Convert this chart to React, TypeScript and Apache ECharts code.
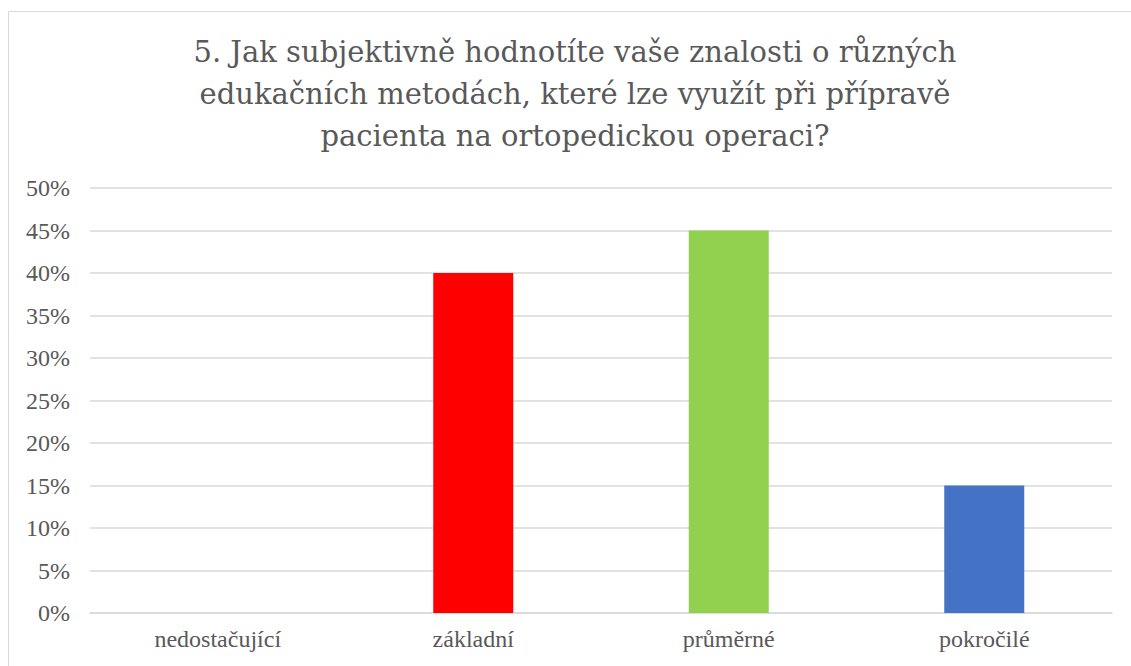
import React, { useEffect, useRef } from "react";
import * as echarts from "echarts";

const titleLines = [
  "5. Jak subjektivně hodnotíte vaše znalosti o různých",
  "edukačních metodách, které lze využít při přípravě",
  "pacienta na ortopedickou operaci?",
];
const categories = ["nedostačující", "základní", "průměrné", "pokročilé"];
const values = [0, 40, 45, 15];
const barColors = ["#FFC000", "#FF0000", "#92D050", "#4472C4"];
const yTicks = { min: 0, max: 50, interval: 5 };

export default function App() {
  const ref = useRef<HTMLDivElement>(null);
  useEffect(() => {
    if (!ref.current) return;
    const chart = echarts.init(ref.current, null, { renderer: "svg" });
    const font = "'Liberation Serif', 'Times New Roman', serif";
    chart.setOption({
      animation: false,
      backgroundColor: "#ffffff",
      graphic: [
        {
          type: "rect",
          shape: { x: 8.5, y: 11.5, width: 1150, height: 700 },
          style: { fill: "none", stroke: "#d9d9d9", lineWidth: 1 },
          silent: true,
        },
        {
          type: "text",
          x: 575,
          y: 31,
          style: {
            text: titleLines.join("\n"),
            fontFamily: "DejaVu Serif",
            fontSize: 29,
            fill: "#595959",
            align: "center",
            verticalAlign: "top",
            lineHeight: 42,
          },
        },
      ],
      grid: { left: 90, right: 19, top: 188, bottom: 53, containLabel: false },
      xAxis: {
        type: "category",
        data: categories,
        axisLine: { show: true, lineStyle: { color: "#d9d9d9", width: 1.5 } },
        axisTick: { show: false },
        axisLabel: { color: "#595959", fontFamily: font, fontSize: 24, margin: 14 },
      },
      yAxis: {
        type: "value",
        min: yTicks.min,
        max: yTicks.max,
        interval: yTicks.interval,
        axisLine: { show: false },
        axisTick: { show: false },
        splitLine: { lineStyle: { color: "#d9d9d9", width: 1.5 } },
        axisLabel: {
          color: "#595959",
          fontFamily: font,
          fontSize: 24,
          margin: 20,
          formatter: (v: number) => `${v}%`,
        },
      },
      series: [
        {
          type: "bar",
          data: values.map((v, i) => ({ value: v, itemStyle: { color: barColors[i] } })),
          barWidth: 80,
        },
      ],
    });
    return () => chart.dispose();
  }, []);
  return (
    <div
      ref={ref}
      style={{ position: "absolute", left: 0, top: 0, width: 1131, height: 666 }}
    />
  );
}
